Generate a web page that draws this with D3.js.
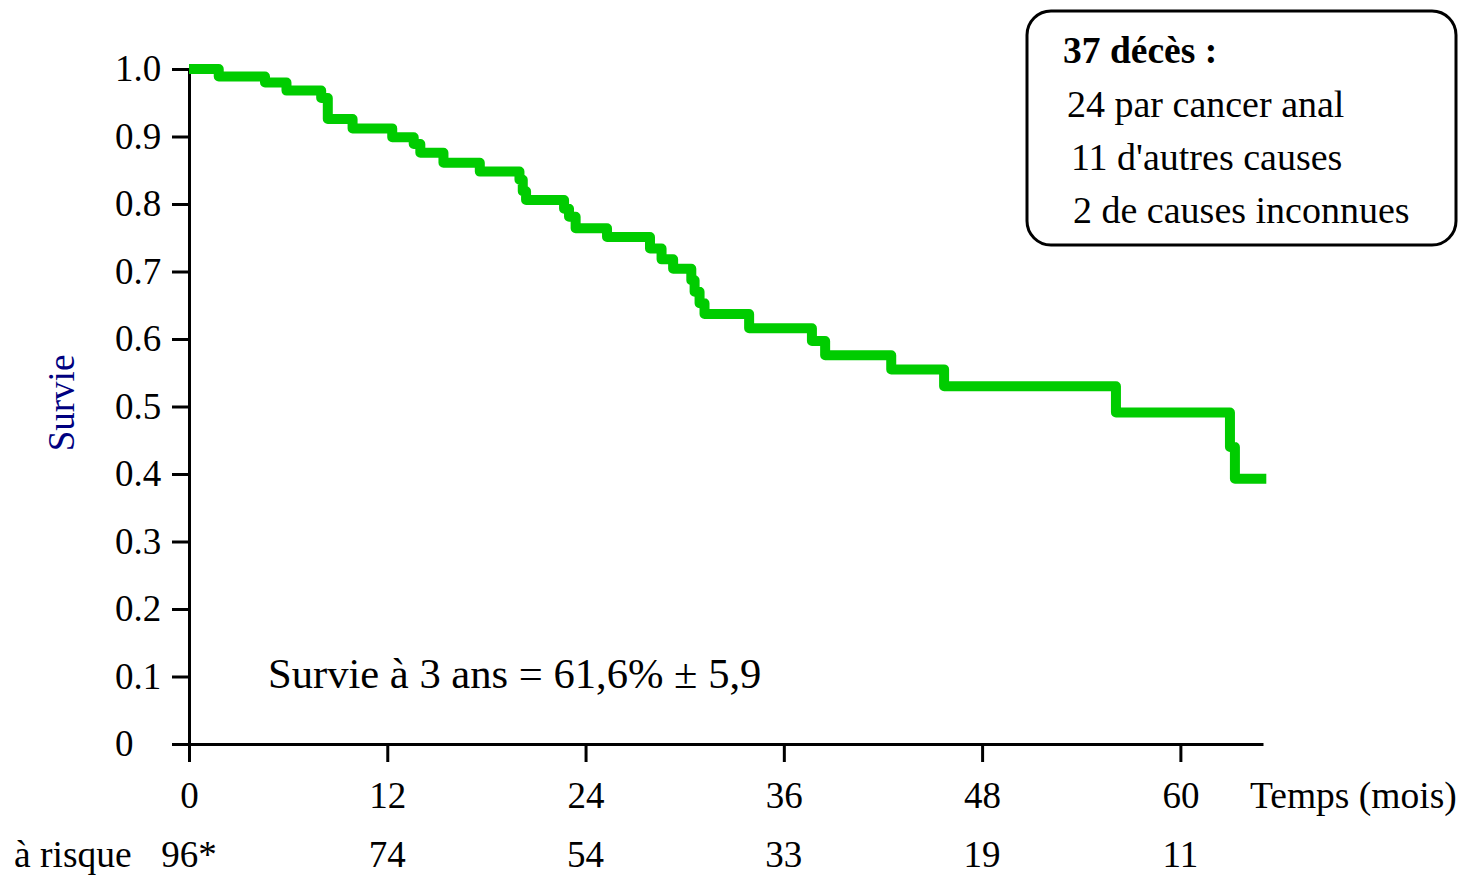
<!DOCTYPE html>
<html>
<head>
<meta charset="utf-8">
<script src="https://cdn.jsdelivr.net/npm/d3@7"></script>
<style>
  body { margin: 0; background: #fff; }
  text { font-family: "Liberation Serif", "Times New Roman", serif; }
</style>
</head>
<body>
<script>
// General constants
const WIDTH = 1459;
const HEIGHT = 876;

// Kaplan-Meier steps (months, survival after the step)
const stepTimes = [0, 1.8, 4.6, 5.9, 8.0, 8.4, 9.9, 12.3, 13.6, 14.0, 15.4, 17.6,
                   20.0, 20.2, 20.4, 22.7, 23.0, 23.4, 25.3, 27.9, 28.6, 29.3,
                   30.4, 30.6, 30.9, 31.2, 33.9, 37.7, 38.5, 42.5, 45.7, 56.1,
                   63.0, 63.3];
const survival = [1.0, 0.989, 0.980, 0.968, 0.957, 0.926, 0.912, 0.899, 0.889, 0.876, 0.861, 0.848,
                  0.836, 0.819, 0.806, 0.793, 0.781, 0.764, 0.751, 0.734, 0.718, 0.704,
                  0.687, 0.670, 0.653, 0.637, 0.616, 0.597, 0.576, 0.555, 0.530, 0.491,
                  0.440, 0.393];
const endTime = 65.2;

const xTicks = [0, 12, 24, 36, 48, 60];
const yTicks = [0, 0.1, 0.2, 0.3, 0.4, 0.5, 0.6, 0.7, 0.8, 0.9, 1.0];
const atRisk = ["96*", "74", "54", "33", "19", "11"];
const boxLines = ["24 par cancer anal", "11 d'autres causes", "2 de causes inconnues"];

const svg = d3.select("body")
              .append("svg")
              .attr("width", WIDTH)
              .attr("height", HEIGHT);

const x = d3.scaleLinear().domain([0, 65]).range([189, 1263]);
const y = d3.scaleLinear().domain([0, 1]).range([744, 69]);

/** Axes */
const yAxis = svg.append("g")
    .attr("transform", `translate(${x(0)},0)`)
    .call(d3.axisLeft(y)
        .tickValues(yTicks)
        .tickSize(17)
        .tickSizeOuter(0)
        .tickFormat(d => d === 0 ? "0" : d3.format(".1f")(d)));

/** Labels in the picture are left aligned, so the "0" sits further left */
yAxis.selectAll(".tick text")
     .attr("x", -74)
     .attr("text-anchor", "start");

const xAxis = svg.append("g")
    .attr("transform", `translate(0,${y(0)})`)
    .call(d3.axisBottom(x)
        .tickValues(xTicks)
        .tickSize(18)
        .tickSizeOuter(0)
        .tickPadding(20));

svg.selectAll(".domain, .tick line")
   .attr("stroke", "#000")
   .attr("stroke-width", 3);
svg.selectAll("g").attr("font-family", null);
svg.selectAll(".tick text")
   .attr("fill", "#000")
   .attr("font-size", 37);

/** Survival curve */
const points = stepTimes.map((t, i) => [t, survival[i]]);
points.push([endTime, survival[survival.length - 1]]);

svg.append("path")
   .datum(points)
   .attr("fill", "none")
   .attr("stroke", "#00cc00")
   .attr("stroke-width", 10)
   .attr("stroke-linejoin", "round")
   .attr("d", d3.line()
        .curve(d3.curveStepAfter)
        .x(d => x(d[0]))
        .y(d => y(d[1])));

/** Labels */
svg.append("text")
   .attr("transform", "translate(74,403) rotate(-90)")
   .attr("text-anchor", "middle")
   .attr("font-size", 37)
   .attr("fill", "#000080")
   .text("Survie");

svg.append("text")
   .attr("x", 1250)
   .attr("y", 808)
   .attr("font-size", 37.5)
   .text("Temps (mois)");

svg.append("text")
   .attr("x", 268)
   .attr("y", 688)
   .attr("font-size", 42.6)
   .text("Survie à 3 ans = 61,6% ± 5,9");

/** Number at risk row */
svg.append("text")
   .attr("x", 14)
   .attr("y", 867)
   .attr("font-size", 37.5)
   .text("à risque");

svg.selectAll(".risk")
   .data(atRisk)
   .enter()
   .append("text")
   .attr("class", "risk")
   .attr("x", (d, i) => x(xTicks[i]))
   .attr("y", 867)
   .attr("text-anchor", "middle")
   .attr("font-size", 37)
   .text(d => d);

/** Deaths box */
svg.append("rect")
   .attr("x", 1027)
   .attr("y", 11)
   .attr("width", 429)
   .attr("height", 234)
   .attr("rx", 24)
   .attr("fill", "none")
   .attr("stroke", "#000")
   .attr("stroke-width", 3);

svg.append("text")
   .attr("x", 1063)
   .attr("y", 63)
   .attr("font-size", 37.5)
   .attr("font-weight", "bold")
   .text("37 décès :");

const boxX = [1067, 1071, 1073];
svg.selectAll(".boxline")
   .data(boxLines)
   .enter()
   .append("text")
   .attr("class", "boxline")
   .attr("x", (d, i) => boxX[i])
   .attr("y", (d, i) => 117 + i * 53)
   .attr("font-size", 38)
   .text(d => d);
</script>
</body>
</html>
